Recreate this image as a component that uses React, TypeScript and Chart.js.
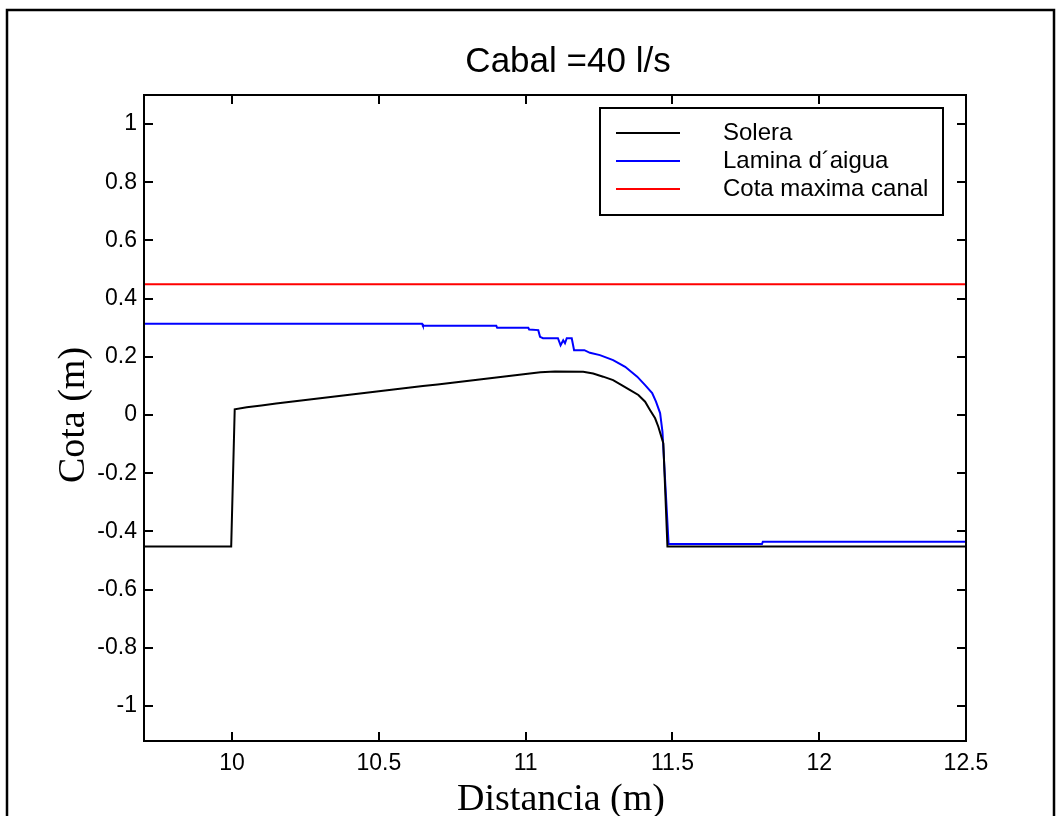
import { useEffect, useRef } from "react";
import { Chart, registerables } from "chart.js";

Chart.register(...registerables);

// Text
const TITLE = "Cabal =40 l/s";
const X_LABEL = "Distancia (m)";
const Y_LABEL = "Cota (m)";

// Axis ranges and ticks
const X_MIN = 9.7;
const X_MAX = 12.5;
const Y_MIN = -1.12;
const Y_MAX = 1.1;
const X_TICKS = [10, 10.5, 11, 11.5, 12, 12.5];
const Y_TICKS = [-1, -0.8, -0.6, -0.4, -0.2, 0, 0.2, 0.4, 0.6, 0.8, 1];

// Solera (channel bed)
const soleraX = [
  9.7, 9.997, 10.009, 10.05, 10.1, 10.15, 10.2, 10.25, 10.3, 10.35, 10.4, 10.45,
  10.5, 10.55, 10.6, 10.65, 10.7, 10.75, 10.8, 10.85, 10.9, 10.95, 11.0, 11.05,
  11.1, 11.196, 11.23, 11.264, 11.298, 11.327, 11.356, 11.384, 11.407, 11.424,
  11.441, 11.452, 11.464, 11.469, 11.483, 12.5,
];
const soleraY = [
  -0.452, -0.452, 0.02, 0.027, 0.033, 0.04, 0.046, 0.052, 0.058, 0.064, 0.07, 0.076,
  0.082, 0.088, 0.094, 0.1, 0.105, 0.111, 0.117, 0.123, 0.129, 0.135, 0.141, 0.147,
  0.15, 0.149, 0.143, 0.132, 0.12, 0.103, 0.086, 0.069, 0.046, 0.017,
  -0.011, -0.04, -0.08, -0.097, -0.452, -0.452,
];

// Lamina d'aigua (water surface)
const laminaX = [
  9.7, 10.647, 10.65, 10.9, 10.903, 11.009, 11.012, 11.043, 11.049, 11.059, 11.11,
  11.119, 11.128, 11.134, 11.14, 11.157, 11.165, 11.2, 11.219, 11.253, 11.298,
  11.339, 11.38, 11.407, 11.431, 11.444, 11.458, 11.466, 11.487, 11.805, 11.808, 12.5,
];
const laminaY = [
  0.314, 0.314, 0.307, 0.307, 0.3, 0.3, 0.294, 0.292, 0.269, 0.264, 0.264,
  0.24, 0.257, 0.247, 0.264, 0.264, 0.223, 0.223, 0.214, 0.206, 0.189,
  0.166, 0.132, 0.103, 0.076, 0.046, 0.007, -0.057, -0.443, -0.443, -0.435, -0.435,
];

// Cota maxima canal (channel top)
const cotaMaxX = [9.7, 12.5];
const cotaMaxY = [0.45, 0.45];

const SERIES_LABELS = ["Solera", "Lamina d\u00b4aigua", "Cota maxima canal"];
const SERIES_COLORS = ["#000000", "#0000ff", "#ff0000"];

const SANS = "'Liberation Sans', Arial, sans-serif";
const SERIF = "'Liberation Serif', 'Times New Roman', serif";

const toPoints = (xs: number[], ys: number[]) => xs.map((x, i) => ({ x, y: ys[i] }));

const fmt = (v: number) => String(parseFloat(v.toFixed(2)));

const decorations = {
  id: "matlabDecorations",
  afterDatasetsDraw(chart: any) {
    const { ctx, chartArea: a, scales } = chart;
    const xs = scales.x;
    const ys = scales.y;
    const tick = 9;
    ctx.save();
    ctx.strokeStyle = "#000";
    ctx.fillStyle = "#000";
    ctx.lineWidth = 2;

    // Axes box
    ctx.strokeRect(a.left, a.top, a.right - a.left, a.bottom - a.top);

    // Inward tick marks on all four sides
    ctx.beginPath();
    for (const t of xs.ticks) {
      const px = Math.round(xs.getPixelForValue(t.value));
      ctx.moveTo(px, a.bottom);
      ctx.lineTo(px, a.bottom - tick);
      ctx.moveTo(px, a.top);
      ctx.lineTo(px, a.top + tick);
    }
    for (const t of ys.ticks) {
      const py = Math.round(ys.getPixelForValue(t.value));
      ctx.moveTo(a.left, py);
      ctx.lineTo(a.left + tick, py);
      ctx.moveTo(a.right, py);
      ctx.lineTo(a.right - tick, py);
    }
    ctx.stroke();

    // Tick labels
    ctx.font = `23px ${SANS}`;
    ctx.textAlign = "center";
    ctx.textBaseline = "top";
    for (const t of xs.ticks) {
      ctx.fillText(fmt(t.value), xs.getPixelForValue(t.value), a.bottom + 11);
    }
    ctx.textAlign = "right";
    ctx.textBaseline = "middle";
    for (const t of ys.ticks) {
      ctx.fillText(fmt(t.value), a.left - 7, ys.getPixelForValue(t.value));
    }

    // Title
    ctx.font = `35px ${SANS}`;
    ctx.textAlign = "center";
    ctx.textBaseline = "alphabetic";
    ctx.fillText(TITLE, 568, 72);

    // Axis labels
    ctx.font = `38px ${SERIF}`;
    ctx.fillText(X_LABEL, 561, 810);
    ctx.save();
    ctx.translate(84, 415);
    ctx.rotate(-Math.PI / 2);
    ctx.fillText(Y_LABEL, 0, 0);
    ctx.restore();

    // Legend
    const lx = 600, ly = 108, lw = 343, lh = 107;
    ctx.fillStyle = "#fff";
    ctx.fillRect(lx, ly, lw, lh);
    ctx.strokeStyle = "#000";
    ctx.lineWidth = 2;
    ctx.strokeRect(lx, ly, lw, lh);
    ctx.font = `24px ${SANS}`;
    ctx.textAlign = "left";
    ctx.textBaseline = "middle";
    chart.data.datasets.forEach((ds: any, i: number) => {
      const y = 133 + i * 28;
      ctx.strokeStyle = ds.borderColor;
      ctx.lineWidth = 2;
      ctx.beginPath();
      ctx.moveTo(616, y);
      ctx.lineTo(680, y);
      ctx.stroke();
      ctx.fillStyle = "#000";
      ctx.fillText(ds.label, 723, y);
    });

    // Figure frame
    ctx.strokeStyle = "#000";
    ctx.lineWidth = 2.5;
    ctx.beginPath();
    ctx.moveTo(7, 816);
    ctx.lineTo(7, 10);
    ctx.lineTo(1054, 10);
    ctx.lineTo(1054, 816);
    ctx.stroke();
    ctx.restore();
  },
};

export default function App() {
  const canvasRef = useRef<HTMLCanvasElement | null>(null);

  useEffect(() => {
    const canvas = canvasRef.current;
    if (!canvas) return;
    const seriesX = [soleraX, laminaX, cotaMaxX];
    const seriesY = [soleraY, laminaY, cotaMaxY];
    const chart = new Chart(canvas, {
      type: "scatter",
      data: {
        datasets: SERIES_LABELS.map((label, i) => ({
          label,
          data: toPoints(seriesX[i], seriesY[i]),
          showLine: true,
          borderColor: SERIES_COLORS[i],
          backgroundColor: SERIES_COLORS[i],
          borderWidth: 2,
          pointRadius: 0,
          tension: 0,
        })),
      },
      options: {
        animation: false,
        responsive: false,
        maintainAspectRatio: false,
        devicePixelRatio: 1,
        layout: { padding: { left: 0, right: 1056 - 966, top: 95, bottom: 0 } },
        plugins: {
          legend: { display: false },
          title: { display: false },
          tooltip: { enabled: false },
        },
        scales: {
          x: {
            type: "linear",
            min: X_MIN,
            max: X_MAX,
            grid: { display: false },
            border: { display: false },
            ticks: { display: false },
            afterBuildTicks: (s: any) => {
              s.ticks = X_TICKS.map((value) => ({ value }));
            },
            afterFit: (s: any) => {
              s.height = 816 - 741;
            },
          },
          y: {
            type: "linear",
            min: Y_MIN,
            max: Y_MAX,
            grid: { display: false },
            border: { display: false },
            ticks: { display: false },
            afterBuildTicks: (s: any) => {
              s.ticks = Y_TICKS.map((value) => ({ value }));
            },
            afterFit: (s: any) => {
              s.width = 144;
            },
          },
        },
      },
      plugins: [decorations],
    });
    return () => chart.destroy();
  }, []);

  return (
    <div
      style={{
        position: "fixed",
        left: 0,
        top: 0,
        width: 1056,
        height: 816,
        overflow: "hidden",
        background: "#fff",
      }}
    >
      <canvas ref={canvasRef} width={1056} height={816} style={{ width: 1056, height: 816 }} />
    </div>
  );
}
